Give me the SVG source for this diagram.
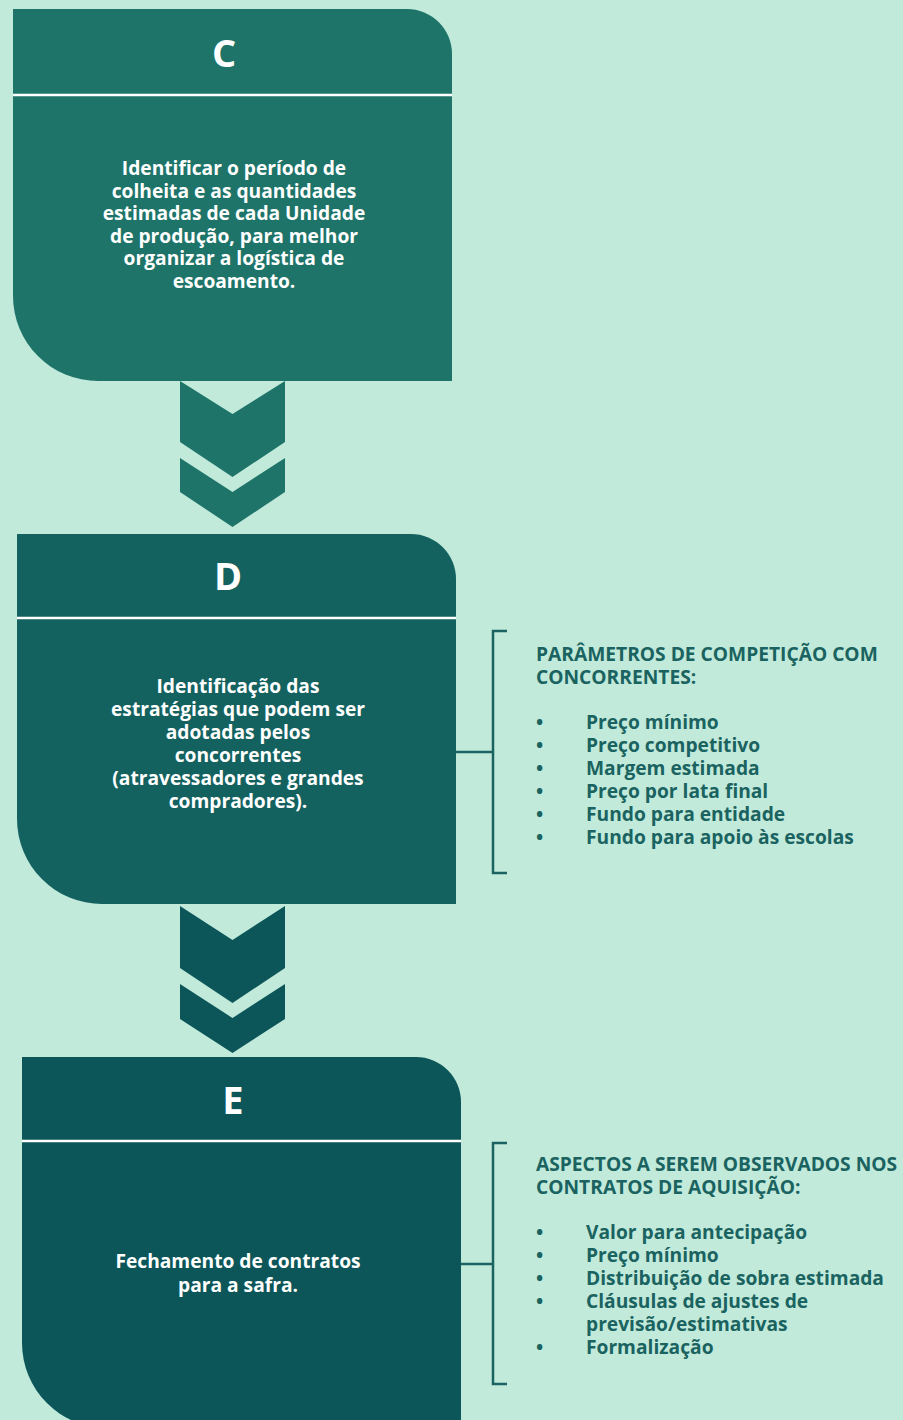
<svg xmlns="http://www.w3.org/2000/svg" width="903" height="1420" viewBox="0 0 903 1420">
<style>
.bt{font-family:"Open Sans","Liberation Sans",sans-serif;font-weight:700;font-size:19.2px;fill:#ffffff;text-anchor:middle}
.hd{font-family:"Open Sans","Liberation Sans",sans-serif;font-weight:700;font-size:38px;fill:#ffffff;text-anchor:middle}
.lt{font-family:"Open Sans","Liberation Sans",sans-serif;font-weight:700;font-size:19.2px;fill:#1a6360}
.div{stroke:#ffffff;stroke-width:2.5}
.br{fill:none;stroke:#1a6360;stroke-width:2.5}
</style>
<rect width="903" height="1420" fill="#c1eadb"/>
<g id="nodeC">
<path d="M13,9 H407 A45,45 0 0 1 452,54 V381 H98 A85,85 0 0 1 13,296 Z" fill="#1e7469"/>
<line class="div" x1="13" y1="95" x2="452" y2="95"/>
<text class="hd" x="224" y="67">C</text>
<text class="bt" x="234"><tspan x="234" y="175">Identificar o período de</tspan><tspan x="234" y="197.5">colheita e as quantidades</tspan><tspan x="234" y="220">estimadas de cada Unidade</tspan><tspan x="234" y="242.5">de produção, para melhor</tspan><tspan x="234" y="265">organizar a logística de</tspan><tspan x="234" y="287.5">escoamento.</tspan></text>
</g>
<g id="nodeD">
<path d="M17,534 H411 A45,45 0 0 1 456,579 V904 H102 A85,85 0 0 1 17,819 Z" fill="#146260"/>
<line class="div" x1="17" y1="618" x2="456" y2="618"/>
<text class="hd" x="228" y="590">D</text>
<text class="bt"><tspan x="238" y="693">Identificação das</tspan><tspan x="238" y="716">estratégias que podem ser</tspan><tspan x="238" y="739">adotadas pelos</tspan><tspan x="238" y="762">concorrentes</tspan><tspan x="238" y="785">(atravessadores e grandes</tspan><tspan x="238" y="808">compradores).</tspan></text>
</g>
<g id="nodeE">
<path d="M22,1057 H416 A45,45 0 0 1 461,1102 V1428 H107 A85,85 0 0 1 22,1343 Z" fill="#0c5659"/>
<line class="div" x1="22" y1="1141" x2="461" y2="1141"/>
<text class="hd" x="233" y="1114">E</text>
<text class="bt"><tspan x="238" y="1268">Fechamento de contratos</tspan><tspan x="238" y="1292">para a safra.</tspan></text>
</g>
<g id="listD">
<text class="lt"><tspan x="536" y="661">PARÂMETROS DE COMPETIÇÃO COM</tspan><tspan x="536" y="684">CONCORRENTES:</tspan></text>
<text class="lt"><tspan x="536" y="729">•</tspan><tspan x="586" y="729">Preço mínimo</tspan><tspan x="536" y="752">•</tspan><tspan x="586" y="752">Preço competitivo</tspan><tspan x="536" y="775">•</tspan><tspan x="586" y="775">Margem estimada</tspan><tspan x="536" y="798">•</tspan><tspan x="586" y="798">Preço por lata final</tspan><tspan x="536" y="821">•</tspan><tspan x="586" y="821">Fundo para entidade</tspan><tspan x="536" y="844">•</tspan><tspan x="586" y="844">Fundo para apoio às escolas</tspan></text>
</g>
<g id="listE">
<text class="lt"><tspan x="536" y="1171">ASPECTOS A SEREM OBSERVADOS NOS</tspan><tspan x="536" y="1194">CONTRATOS DE AQUISIÇÃO:</tspan></text>
<text class="lt"><tspan x="536" y="1239">•</tspan><tspan x="586" y="1239">Valor para antecipação</tspan><tspan x="536" y="1262">•</tspan><tspan x="586" y="1262">Preço mínimo</tspan><tspan x="536" y="1285">•</tspan><tspan x="586" y="1285">Distribuição de sobra estimada</tspan><tspan x="536" y="1308">•</tspan><tspan x="586" y="1308">Cláusulas de ajustes de</tspan><tspan x="586" y="1331">previsão/estimativas</tspan><tspan x="536" y="1354">•</tspan><tspan x="586" y="1354">Formalização</tspan></text>
</g>
<g id="connectors">
<polygon points="180,381 232.5,414 285,381 285,442 232.5,477 180,442" fill="#1e7469"/>
<polygon points="180,458 232.5,492 285,458 285,492 232.5,527 180,492" fill="#1e7469"/>
<polygon points="180,906 232.5,940 285,906 285,968 232.5,1003 180,968" fill="#0c5659"/>
<polygon points="180,984 232.5,1018 285,984 285,1019 232.5,1053 180,1019" fill="#0c5659"/>
<path class="br" d="M507,631 H493 V873 H507 M456,752 H493"/>
<path class="br" d="M507,1143 H493 V1384 H507 M461,1264 H493"/>
</g>
</svg>
